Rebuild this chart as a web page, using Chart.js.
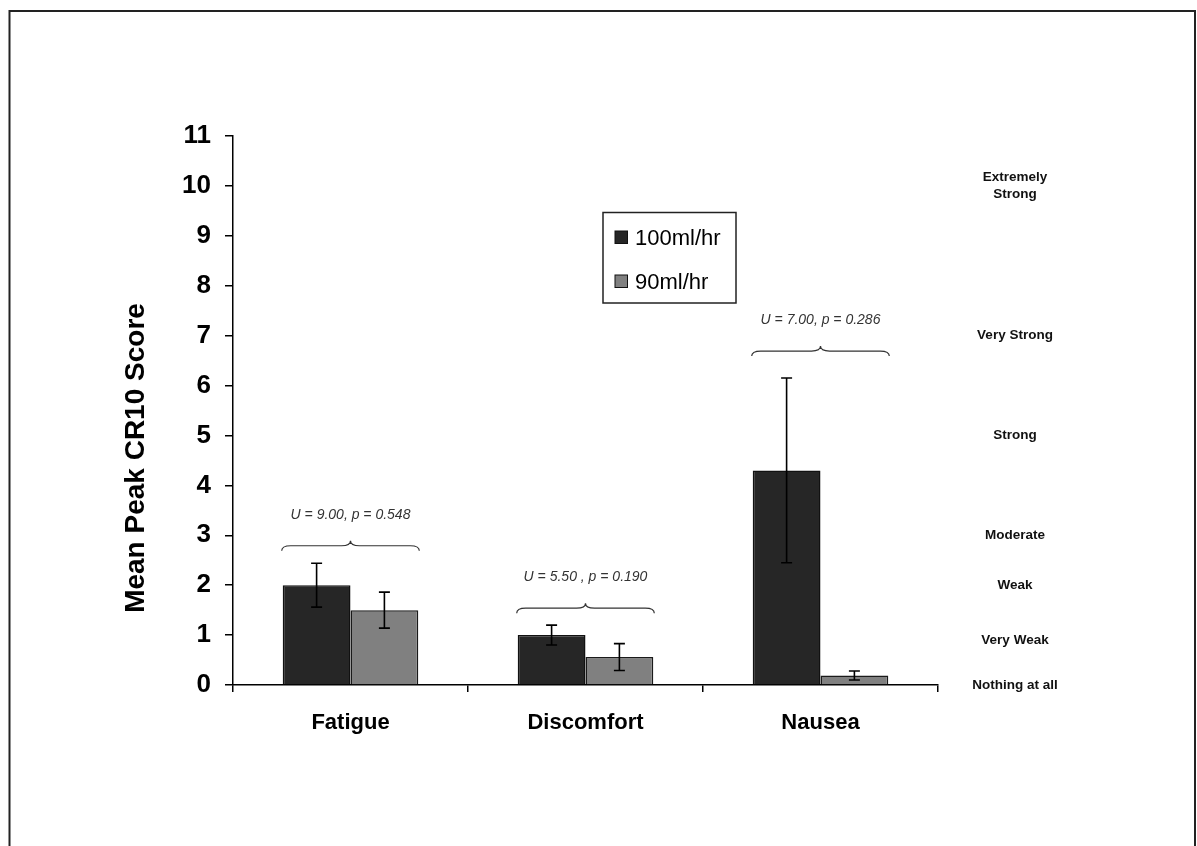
<!DOCTYPE html>
<html>
<head>
<meta charset="utf-8">
<script src="https://cdn.jsdelivr.net/npm/chart.js@4.4.0/dist/chart.umd.min.js"></script>
<style>
html,body{margin:0;padding:0;background:#fff;}
#wrap{position:relative;width:1197px;height:846px;}
</style>
</head>
<body>
<div id="wrap"><canvas id="c" width="1197" height="846"></canvas></div>
<script>
// ---- data ----
const categories = ['Fatigue', 'Discomfort', 'Nausea'];
const seriesNames = ['100ml/hr', '90ml/hr'];
const values100 = [2.0, 1.0, 4.3];
const values90 = [1.5, 0.56, 0.19];
const err100 = [0.44, 0.2, 1.85];
const err90 = [0.36, 0.27, 0.09];
const statLabels = ['U = 9.00, p = 0.548', 'U = 5.50 , p = 0.190', 'U = 7.00, p = 0.286'];
const braceLevels = [2.69, 1.44, 6.59];
const yTicks = [0,1,2,3,4,5,6,7,8,9,10,11];
const scaleTexts = [['Extremely', 'Strong'], ['Very Strong'], ['Strong'], ['Moderate'], ['Weak'], ['Very Weak'], ['Nothing at all']];
const scaleValues = [10, 7, 5, 3, 2, 0.9, 0];

const FONT = '"Liberation Sans", Arial, Helvetica, sans-serif';
const errors = [err100, err90];

const framePlugin = {
  id: 'frame',
  afterDraw(chart) {
    const ctx = chart.ctx;
    ctx.save();
    ctx.strokeStyle = '#222';
    ctx.lineWidth = 2;
    ctx.beginPath();
    ctx.moveTo(9.5, 846);
    ctx.lineTo(9.5, 11);
    ctx.lineTo(1195, 11);
    ctx.lineTo(1195, 846);
    ctx.stroke();
    ctx.restore();
  }
};

const errorBarPlugin = {
  id: 'errbars',
  afterDatasetsDraw(chart) {
    const ctx = chart.ctx;
    const ys = chart.scales.y;
    ctx.save();
    ctx.strokeStyle = '#000';
    ctx.lineWidth = 1.6;
    chart.data.datasets.forEach((ds, i) => {
      const meta = chart.getDatasetMeta(i);
      meta.data.forEach((el, j) => {
        const v = ds.data[j], e = errors[i][j];
        const x = el.x;
        const yt = ys.getPixelForValue(v + e);
        const yb = ys.getPixelForValue(v - e);
        const cw = 5.5;
        ctx.beginPath();
        ctx.moveTo(x, yt); ctx.lineTo(x, yb);
        ctx.moveTo(x - cw, yt); ctx.lineTo(x + cw, yt);
        ctx.moveTo(x - cw, yb); ctx.lineTo(x + cw, yb);
        ctx.stroke();
      });
    });
    ctx.restore();
  }
};

const bracePlugin = {
  id: 'braces',
  afterDatasetsDraw(chart) {
    const ctx = chart.ctx;
    const ys = chart.scales.y;
    const m0 = chart.getDatasetMeta(0), m1 = chart.getDatasetMeta(1);
    ctx.save();
    categories.forEach((c, j) => {
      const b0 = m0.data[j], b1 = m1.data[j];
      const left = b0.x - b0.width / 2 - 1;
      const right = b1.x + b1.width / 2 + 1;
      const xc = (left + right) / 2;
      const yEnd = ys.getPixelForValue(braceLevels[j]);
      const yLine = yEnd - 5;
      const yPeak = yEnd - 10;
      const r = 9;
      ctx.strokeStyle = '#333';
      ctx.lineWidth = 1.2;
      ctx.beginPath();
      ctx.moveTo(left, yEnd);
      ctx.quadraticCurveTo(left, yLine, left + r, yLine);
      ctx.lineTo(xc - r, yLine);
      ctx.quadraticCurveTo(xc, yLine, xc, yPeak);
      ctx.quadraticCurveTo(xc, yLine, xc + r, yLine);
      ctx.lineTo(right - r, yLine);
      ctx.quadraticCurveTo(right, yLine, right, yEnd);
      ctx.stroke();
      ctx.fillStyle = '#333';
      ctx.font = 'italic 14px ' + FONT;
      ctx.textAlign = 'center';
      ctx.textBaseline = 'middle';
      ctx.fillText(statLabels[j], xc, yEnd - 36);
    });
    ctx.restore();
  }
};

const sidePlugin = {
  id: 'side',
  afterDraw(chart) {
    const ctx = chart.ctx;
    const ys = chart.scales.y;
    const ca = chart.chartArea;
    ctx.save();
    // right-hand CR10 verbal anchors
    ctx.fillStyle = '#111';
    ctx.font = 'bold 13.5px ' + FONT;
    ctx.textAlign = 'center';
    ctx.textBaseline = 'middle';
    scaleTexts.forEach((lines, k) => {
      const y = ys.getPixelForValue(scaleValues[k]);
      const lh = 17;
      const y0 = y - (lines.length - 1) * lh / 2;
      lines.forEach((t, n) => ctx.fillText(t, ca.right + 77, y0 + n * lh));
    });
    // y title
    ctx.fillStyle = '#000';
    ctx.font = 'bold 28px ' + FONT;
    ctx.translate(136, 458);
    ctx.rotate(-Math.PI / 2);
    ctx.fillText('Mean Peak CR10 Score', 0, 0);
    ctx.restore();

    // legend
    ctx.save();
    ctx.strokeStyle = '#222';
    ctx.lineWidth = 1.5;
    ctx.strokeRect(603, 212.5, 133, 90.5);
    const items = chart.data.datasets;
    const rowsY = [238, 282];
    items.forEach((ds, i) => {
      ctx.fillStyle = ds.backgroundColor;
      ctx.fillRect(615, rowsY[i] - 7, 12.5, 12.5);
      ctx.strokeStyle = '#111';
      ctx.lineWidth = 1;
      ctx.strokeRect(615, rowsY[i] - 7, 12.5, 12.5);
      ctx.fillStyle = '#000';
      ctx.font = '22px ' + FONT;
      ctx.textAlign = 'left';
      ctx.textBaseline = 'middle';
      ctx.fillText(ds.label, 635, rowsY[i] + 1);
    });
    ctx.restore();
  }
};

new Chart(document.getElementById('c'), {
  type: 'bar',
  data: {
    labels: categories,
    datasets: [
      { label: seriesNames[0], data: values100, backgroundColor: '#262626', borderColor: '#111', borderWidth: 1.5 },
      { label: seriesNames[1], data: values90, backgroundColor: '#808080', borderColor: '#1a1a1a', borderWidth: 1.5 }
    ]
  },
  options: {
    responsive: false,
    animation: false,
    events: [],
    devicePixelRatio: 1,
    layout: { padding: { left: 0, right: 259, top: 136, bottom: 0 } },
    categoryPercentage: 0.577,
    barPercentage: 1.0,
    plugins: { legend: { display: false }, tooltip: { enabled: false } },
    scales: {
      x: {
        afterFit(s) { s.height = 161; },
        grid: { drawOnChartArea: false, drawTicks: true, tickLength: 7, color: '#000', lineWidth: 1.5, offset: true },
        border: { color: '#000', width: 1.5 },
        ticks: { font: { family: FONT, size: 22, weight: 'bold' }, color: '#000', padding: 18 }
      },
      y: {
        min: 0, max: 11,
        afterFit(s) { s.width = 233; },
        afterBuildTicks(s) { s.ticks = yTicks.map(v => ({ value: v })); },
        grid: { drawOnChartArea: false, drawTicks: true, tickLength: 8, color: '#000', lineWidth: 1.5 },
        border: { color: '#000', width: 1.5 },
        ticks: { font: { family: FONT, size: 26, weight: 'bold' }, color: '#000', padding: 14 }
      }
    }
  },
  plugins: [framePlugin, errorBarPlugin, bracePlugin, sidePlugin]
});
</script>
</body>
</html>
